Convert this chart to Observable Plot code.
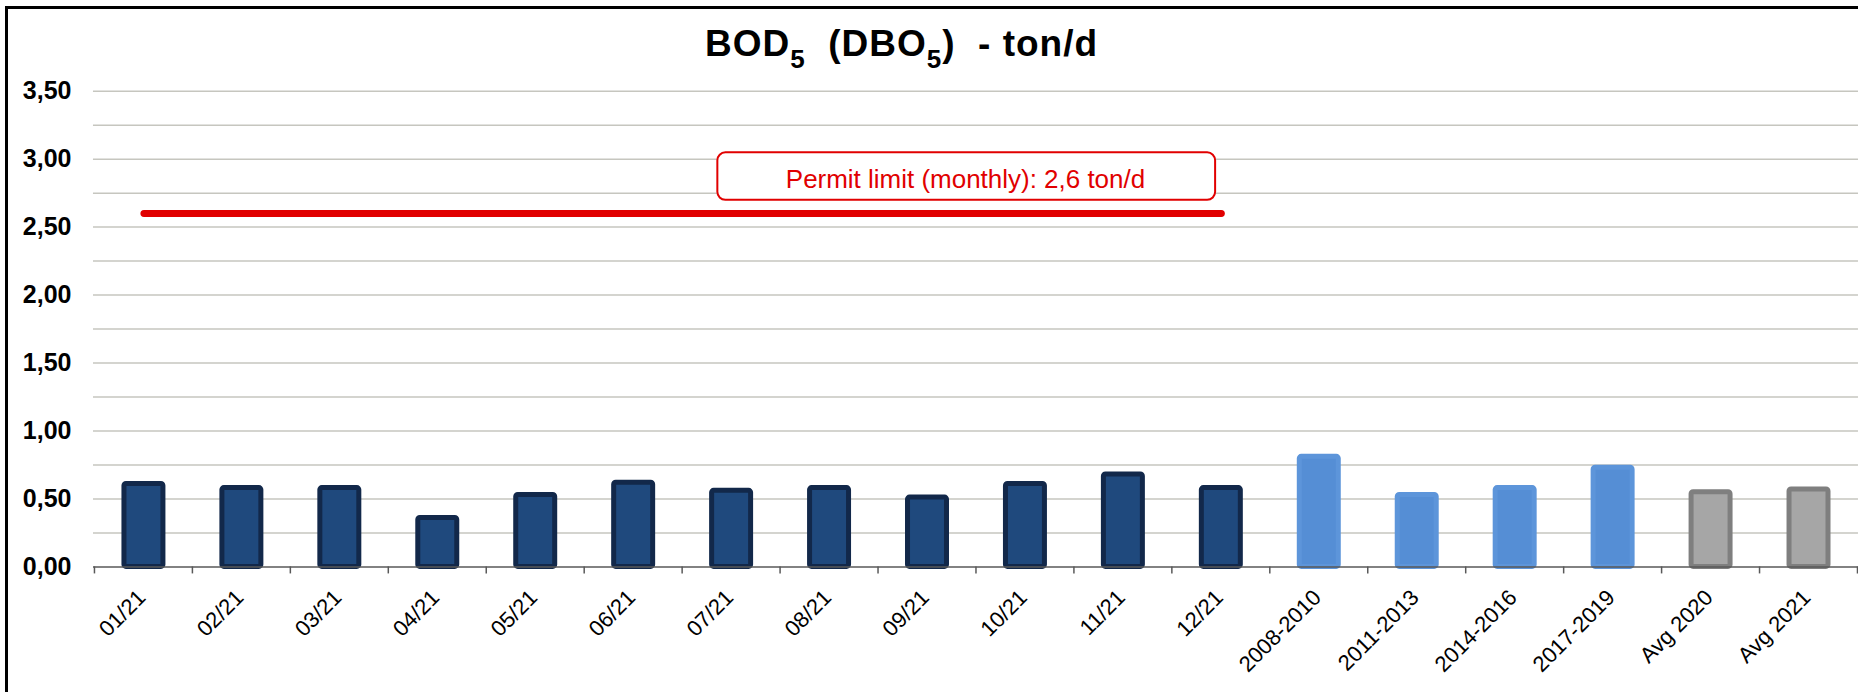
<!DOCTYPE html>
<html>
<head>
<meta charset="utf-8">
<script src="https://cdn.jsdelivr.net/npm/d3@7"></script>
<script src="https://cdn.jsdelivr.net/npm/@observablehq/plot@0.6"></script>
<style>
  html, body { margin: 0; padding: 0; background: #fff; overflow: hidden; width: 1858px; height: 692px; }
  body { position: relative; font-family: "Liberation Sans", Arial, sans-serif; }
  #frameL { position: absolute; left: 5px; top: 6px; width: 3px; height: 700px; background: #000; }
  #frameT { position: absolute; left: 5px; top: 6px; width: 1860px; height: 3px; background: #000; }
  #title { position: absolute; left: 0; top: 25.4px; width: 1803px; text-align: center;
           font-size: 37px; font-weight: bold; line-height: 37px; letter-spacing: 1px; color: #000; white-space: pre; }
  #title .sub { font-size: 26px; position: relative; top: 11.5px; }
  #chart { position: absolute; left: 0; top: 70px; }
</style>
</head>
<body>
<div id="frameL"></div>
<div id="frameT"></div>
<div id="title">BOD<span class="sub">5</span>  (DBO<span class="sub">5</span>)  - ton/d</div>
<div id="chart"></div>
<script>
// ---- data ----
const categories = ["01/21","02/21","03/21","04/21","05/21","06/21","07/21","08/21","09/21","10/21","11/21","12/21",
                    "2008-2010","2011-2013","2014-2016","2017-2019","Avg 2020","Avg 2021"];
const values = [0.61,0.58,0.58,0.36,0.53,0.62,0.56,0.58,0.51,0.61,0.68,0.58,
                0.81,0.53,0.58,0.73,0.55,0.57];
const groups = ["month","month","month","month","month","month","month","month","month","month","month","month",
                "period","period","period","period","avg","avg"];
const limitMonths = ["01/21","02/21","03/21","04/21","05/21","06/21","07/21","08/21","09/21","10/21","11/21","12/21"];
const limitValue = 2.6;
const yTickValues = [0, 0.5, 1, 1.5, 2, 2.5, 3, 3.5];
const gridValues = [0.25, 0.5, 0.75, 1, 1.25, 1.5, 1.75, 2, 2.25, 2.5, 2.75, 3, 3.25, 3.5];
const annotation = [{cat: "09/21", y: 2.85, text: "Permit limit (monthly): 2,6 ton/d"}];

const bars = categories.map((c, i) => ({cat: c, value: values[i], group: groups[i]}));
const limitData = limitMonths.map(c => ({cat: c, value: limitValue}));

const groupStyle = {
  month:  {fill: "#1f497d", stroke: "#12284a"},
  period: {fill: "#558ed5", stroke: "#5d95da"},
  avg:    {fill: "#a6a6a6", stroke: "#7f7f7f"}
};

// category separator ticks, placed from the band scale
function boundaryTicks(index, scales, values, dimensions, context) {
  const x = scales.x, y = scales.y;
  const step = x.step(), bw = x.bandwidth();
  const off = (step - bw) / 2;
  const y0 = y(0);
  const pos = categories.map(c => x(c) - off);
  pos.push(x(categories[categories.length - 1]) + bw + off);
  const g = d3.create("svg:g");
  g.selectAll("line").data(pos).join("line")
    .attr("x1", d => d).attr("x2", d => d)
    .attr("y1", y0).attr("y2", y0 + 7)
    .attr("stroke", "#595959").attr("stroke-width", 1.5);
  return g.node();
}

const fmt = d => d.toFixed(2).replace(".", ",");

const plot = Plot.plot({
  width: 1859,
  height: 622,
  marginLeft: 93,
  marginRight: 0,
  marginTop: 20.7,
  marginBottom: 125.3,
  style: {fontFamily: "'Liberation Sans', Arial, sans-serif", background: "transparent", color: "#000", overflow: "visible"},
  x: {domain: categories, paddingInner: 0.6024, paddingOuter: 0.3012, label: null},
  y: {domain: [0, 3.5], label: null},
  marks: [
    Plot.gridY(gridValues, {stroke: "#c6c6bf", strokeOpacity: 1, strokeWidth: 1.5}),
    Plot.axisY(yTickValues, {tickSize: 0, tickPadding: 22, tickFormat: fmt, fontSize: 25, fontWeight: "bold", label: null}),
    ...Object.keys(groupStyle).map(k =>
      Plot.barY(bars.filter(d => d.group === k), {
        x: "cat", y: "value",
        fill: groupStyle[k].fill, stroke: groupStyle[k].stroke,
        strokeWidth: 5, strokeLinejoin: "round", rx: 2
      })
    ),
    Plot.ruleY([0], {stroke: "#595959", strokeWidth: 1.5}),
    boundaryTicks,
    Plot.axisX({tickSize: 0, tickPadding: 27, tickRotate: -45, dx: -2, fontSize: 22, label: null}),
    Plot.lineY(limitData, {x: "cat", y: "value", stroke: "#e10000", strokeWidth: 7, strokeLinecap: "round"}),
    Plot.text(annotation, {x: "cat", y: "y", text: "text", dx: 38, fontSize: 26, fill: "#e10000"})
  ]
});

document.getElementById("chart").appendChild(plot);

// rounded box around the permit label, sized from the rendered text
const label = [...plot.querySelectorAll("text")].find(t => t.textContent.startsWith("Permit"));
if (label) {
  const b = label.getBBox();
  const r = document.createElementNS("http://www.w3.org/2000/svg", "rect");
  r.setAttribute("x", b.x - 68.5);
  r.setAttribute("y", b.y - 11.5);
  r.setAttribute("width", b.width + 138.5);
  r.setAttribute("height", b.height + 17.5);
  r.setAttribute("rx", 8);
  r.setAttribute("fill", "#fff");
  r.setAttribute("stroke", "#e10000");
  r.setAttribute("stroke-width", 2);
  const tr = label.getAttribute("transform");
  if (tr) r.setAttribute("transform", tr);
  label.parentNode.insertBefore(r, label);
}
</script>
</body>
</html>
